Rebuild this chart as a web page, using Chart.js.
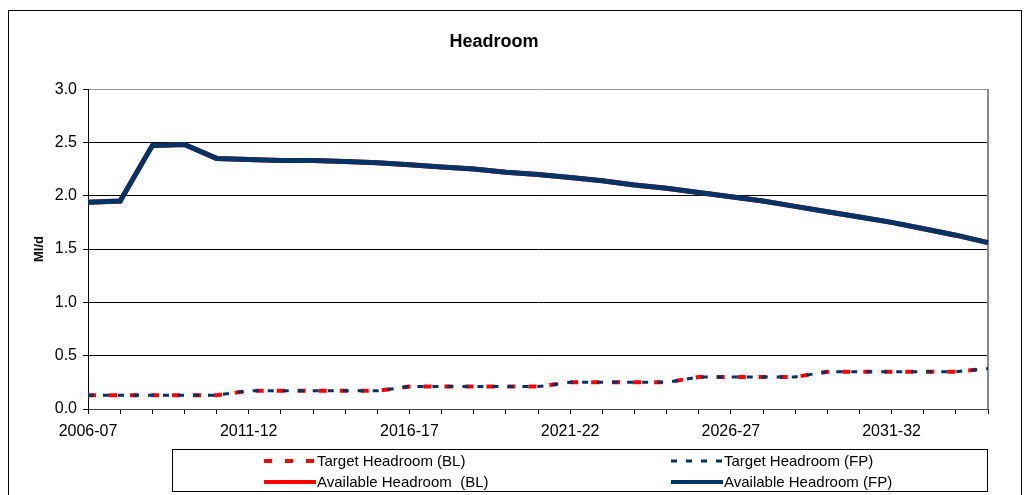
<!DOCTYPE html>
<html lang="en">
<head>
  <meta charset="UTF-8">
  <title>Headroom</title>
  <style>
    html, body { margin: 0; padding: 0; background: #fff; }
  </style>
</head>
<body>
  <canvas id="myChart" width="1027" height="495"></canvas>
  <script src="https://cdn.jsdelivr.net/npm/chart.js"></script>
  <script>
    // values
    const years = ['2006-07', '2007-08', '2008-09', '2009-10', '2010-11', '2011-12', '2012-13', '2013-14',
      '2014-15', '2015-16', '2016-17', '2017-18', '2018-19', '2019-20', '2020-21', '2021-22', '2022-23',
      '2023-24', '2024-25', '2025-26', '2026-27', '2027-28', '2028-29', '2029-30', '2030-31', '2031-32',
      '2032-33', '2033-34', '2034-35']
    const shownYears = ['2006-07', '2011-12', '2016-17', '2021-22', '2026-27', '2031-32']

    const targetBL = [0.13, 0.13, 0.13, 0.13, 0.13, 0.17, 0.17, 0.17, 0.17, 0.17, 0.21, 0.21, 0.21, 0.21, 0.21,
      0.25, 0.25, 0.25, 0.25, 0.30, 0.30, 0.30, 0.30, 0.35, 0.35, 0.35, 0.35, 0.35, 0.38]
    const targetFP = [0.13, 0.13, 0.13, 0.13, 0.13, 0.17, 0.17, 0.17, 0.17, 0.17, 0.21, 0.21, 0.21, 0.21, 0.21,
      0.25, 0.25, 0.25, 0.25, 0.30, 0.30, 0.30, 0.30, 0.35, 0.35, 0.35, 0.35, 0.35, 0.38]
    const availableBL = [1.94, 1.95, 2.47, 2.48, 2.35, 2.34, 2.33, 2.33, 2.32, 2.31, 2.29, 2.27, 2.25, 2.22, 2.20,
      2.17, 2.14, 2.10, 2.07, 2.03, 1.99, 1.95, 1.90, 1.85, 1.80, 1.75, 1.69, 1.63, 1.56]
    const availableFP = [1.94, 1.95, 2.47, 2.48, 2.35, 2.34, 2.33, 2.33, 2.32, 2.31, 2.29, 2.27, 2.25, 2.22, 2.20,
      2.17, 2.14, 2.10, 2.07, 2.03, 1.99, 1.95, 1.90, 1.85, 1.80, 1.75, 1.69, 1.63, 1.56]

    const fam = "'Liberation Sans', Arial, sans-serif"
    const RED = '#FF0000'
    const NAVY = '#003366'

    // outer frame + plot area border
    const frame = {
      id: 'frame',
      beforeDraw(chart) {
        const ctx = chart.ctx
        ctx.save()
        ctx.fillStyle = '#fff'
        ctx.fillRect(0, 0, chart.width, chart.height)
        ctx.strokeStyle = '#000'
        ctx.lineWidth = 1
        ctx.strokeRect(8.5, 10.5, 1013, 500)
        ctx.restore()
      },
      beforeDatasetsDraw(chart) {
        const { ctx, chartArea: a } = chart
        ctx.save()
        ctx.strokeStyle = '#888'
        ctx.lineWidth = 2
        ctx.beginPath()
        ctx.moveTo(a.right, a.top)
        ctx.lineTo(a.right, a.bottom)
        ctx.stroke()
        ctx.restore()
      }
    }

    // two-column legend in a box under the axis
    const boxLegend = {
      id: 'boxLegend',
      afterDraw(chart) {
        const ctx = chart.ctx
        const ds = chart.data.datasets
        const slots = [[264, 461], [671, 461], [264, 482], [671, 482]]
        ctx.save()
        ctx.strokeStyle = '#000'
        ctx.lineWidth = 1
        ctx.strokeRect(172.5, 449.5, 815, 42)
        ctx.font = '15px ' + fam
        ctx.fillStyle = '#000'
        ctx.textBaseline = 'middle'
        ds.forEach((d, i) => {
          const [x, y] = slots[i]
          ctx.strokeStyle = d.borderColor
          ctx.lineWidth = Math.min(d.borderWidth, 4)
          ctx.setLineDash(d.borderDash || [])
          ctx.beginPath()
          ctx.moveTo(x, y)
          ctx.lineTo(x + 52, y)
          ctx.stroke()
          ctx.setLineDash([])
          ctx.fillText(d.label, x + 53, y + 1)
        })
        ctx.restore()
      }
    }

    const ctx = document.getElementById('myChart')

    new Chart(ctx, {
      type: 'line',
      data: {
        labels: years,
        datasets: [
          { label: 'Target Headroom (BL)', data: targetBL, borderColor: RED, borderWidth: 4, borderDash: [8, 13], order: 2 },
          { label: 'Target Headroom (FP)', data: targetFP, borderColor: NAVY, borderWidth: 3, borderDash: [6, 9], order: 1 },
          { label: 'Available Headroom  (BL)', data: availableBL, borderColor: RED, borderWidth: 5, order: 4 },
          { label: 'Available Headroom (FP)', data: availableFP, borderColor: NAVY, borderWidth: 5, order: 3 },
        ]
      },
      options: {
        responsive: false,
        animation: false,
        devicePixelRatio: 1,
        elements: {
          point: { radius: 0, hoverRadius: 0 },
          line: { tension: 0, fill: false }
        },
        layout: { padding: { left: 0, right: 39, top: 0, bottom: 0 } },
        plugins: {
          legend: { display: false },
          tooltip: { enabled: false },
          title: {
            display: true,
            text: 'Headroom',
            color: '#000',
            font: { size: 18, weight: 'bold', family: fam },
            padding: { top: 31, bottom: 36.5 }
          }
        },
        scales: {
          x: {
            grid: { display: true, drawOnChartArea: false, drawTicks: true, tickLength: 5, color: '#000' },
            border: { color: '#444', width: 1 },
            ticks: {
              autoSkip: false,
              maxRotation: 0,
              padding: 8,
              color: '#000',
              font: { size: 16, family: fam },
              callback: function (v, i) {
                return shownYears.includes(years[i]) ? years[i] : ''
              }
            },
            afterFit: function (scale) { scale.height = 86 }
          },
          y: {
            min: 0,
            max: 3,
            ticks: {
              stepSize: 0.5,
              padding: 6,
              color: '#000',
              font: { size: 16, family: fam },
              callback: function (v) { return Number(v).toFixed(1) }
            },
            grid: {
              color: function (c) { return c.tick && c.tick.value === 3 ? '#999' : '#000' },
              tickColor: '#000',
              tickLength: 5
            },
            border: { color: '#000', width: 1 },
            title: {
              display: true,
              text: 'Ml/d',
              color: '#000',
              font: { size: 13, weight: 'bold', family: fam },
              padding: { top: 32, bottom: 0 }
            },
            afterFit: function (scale) { scale.width = 88 }
          }
        }
      },
      plugins: [frame, boxLegend]
    });
  </script>
</body>
</html>
